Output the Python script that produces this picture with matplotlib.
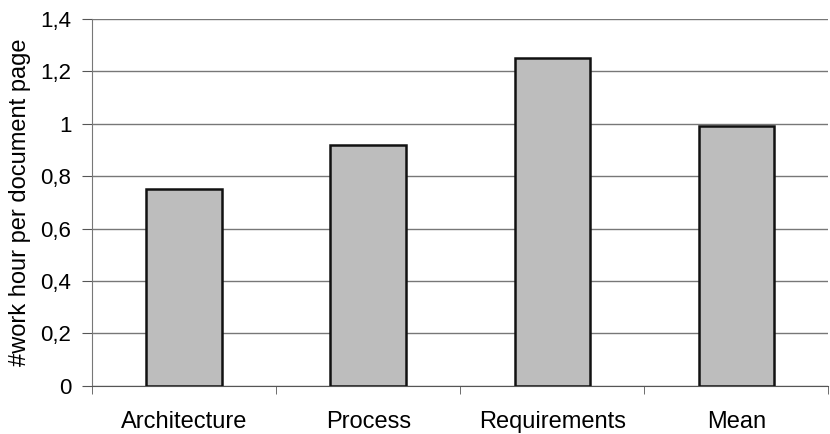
import matplotlib.pyplot as plt
from matplotlib.ticker import FuncFormatter

categories = ['Architecture', 'Process', 'Requirements', 'Mean']
hours_per_page = [0.75, 0.92, 1.25, 0.99]
y_ticks = [0, 0.2, 0.4, 0.6, 0.8, 1.0, 1.2, 1.4]

plt.rcParams['font.family'] = ['Liberation Sans', 'DejaVu Sans']

fig, ax = plt.subplots(figsize=(8.3, 4.34), dpi=100)
fig.subplots_adjust(left=0.111, right=0.998, top=0.956, bottom=0.111)

x = range(len(categories))
ax.bar(x, hours_per_page, width=0.41, color='#bdbdbd', edgecolor='#111111', linewidth=1.8, zorder=3)

ax.set_xlim(-0.5, len(categories) - 0.5)
ax.set_ylim(0, 1.4)
ax.set_yticks(y_ticks)
ax.yaxis.set_major_formatter(FuncFormatter(lambda v, p: f'{v:g}'.replace('.', ',')))
ax.set_ylabel('#work hour per document page', fontsize=17, labelpad=7)

# category labels centred, ticks on the boundaries
ax.set_xticks(list(x))
ax.set_xticklabels(categories, fontsize=17)
ax.tick_params(axis='x', length=0, pad=18)
ax.set_xticks([i - 0.5 for i in range(len(categories) + 1)], minor=True)
ax.tick_params(axis='x', which='minor', length=6, color='#555555', direction='out')
ax.tick_params(axis='y', labelsize=16, length=7, pad=8, color='#555555', direction='out')

ax.grid(axis='y', color='#777777', linewidth=1.0, zorder=0)
for s in ['top', 'right']:
    ax.spines[s].set_visible(False)
ax.spines['left'].set_color('#777777')
ax.spines['bottom'].set_color('#555555')

fig.savefig('out.png', dpi=100)
